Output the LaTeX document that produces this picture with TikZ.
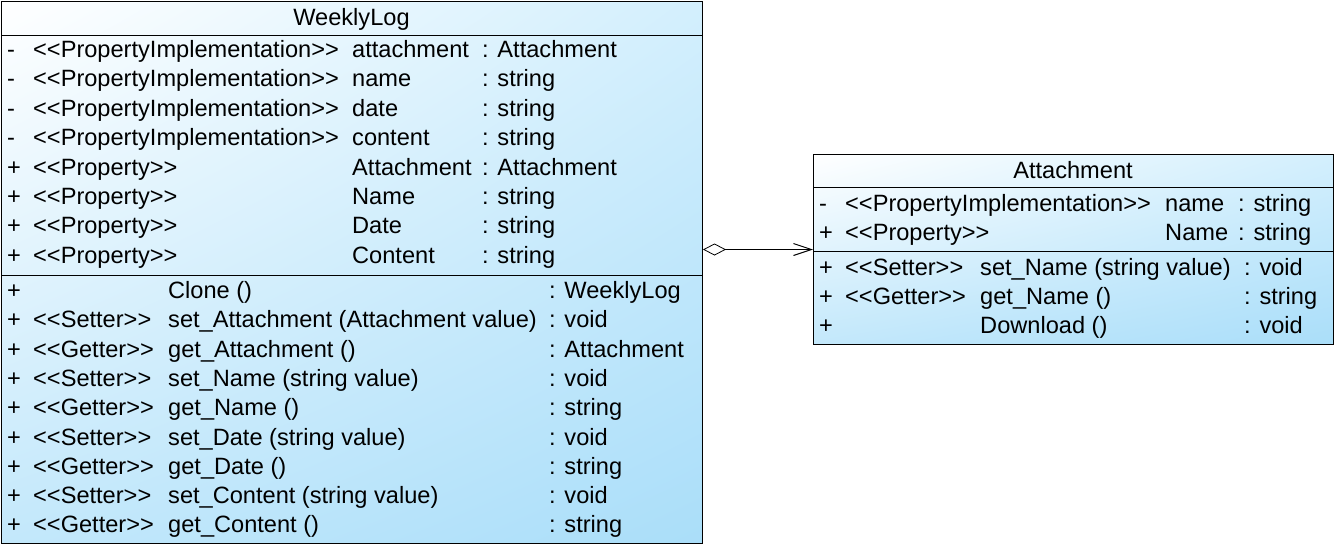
\documentclass[tikz,border=0pt]{standalone}
\usepackage{fontspec}
\newfontfamily\umlfont{Liberation Sans}
\usetikzlibrary{arrows.meta,shadings}
\definecolor{gTR}{HTML}{D3EFFD}
\definecolor{gBL}{HTML}{C3E8FB}
\definecolor{gBR}{HTML}{AADEF9}
\tikzset{
  classbox/.style={draw=black, line width=1pt, rectangle, inner sep=0pt, anchor=north west,
    shade, upper left=white, upper right=gTR, lower left=gBL, lower right=gBR},
  txt/.style={inner sep=0pt, anchor=base west, font=\umlfont\fontsize{23.6}{28}\selectfont, text=black},
  ttl/.style={txt, anchor=base},
  sep/.style={draw=black, line width=1pt},
  assoc/.style={draw=black, line width=1pt,
    {Diamond[open, length=23pt, width=12pt, line width=0.8pt]}-{Straight Barb[length=18pt, width=12pt, line width=1pt]}},
}
\begin{document}
\begin{tikzpicture}[x=1pt,y=-1pt]
\useasboundingbox (0,0) rectangle (1336,547);
% WeeklyLog class
\node[classbox, minimum width=701pt, minimum height=542pt] (wl) at (1,1) {};
\coordinate (wls1) at (0,35);
\coordinate (wls2) at (0,275);
\draw[sep] (wl.west |- wls1) -- (wl.east |- wls1);
\draw[sep] (wl.west |- wls2) -- (wl.east |- wls2);
\node[ttl] (wlt) at (351.5,25) {WeeklyLog};
\foreach \v/\s/\n/\t [count=\i] in {
  -/{<<PropertyImplementation>>}/{attachment}/{: Attachment},
  -/{<<PropertyImplementation>>}/{name}/{: string},
  -/{<<PropertyImplementation>>}/{date}/{: string},
  -/{<<PropertyImplementation>>}/{content}/{: string},
  +/{<<Property>>}/{Attachment}/{: Attachment},
  +/{<<Property>>}/{Name}/{: string},
  +/{<<Property>>}/{Date}/{: string},
  +/{<<Property>>}/{Content}/{: string}}{
  \node[txt] (wav\i) at (7,{57.5+29.4*(\i-1)}) {\v};
  \node[txt] (was\i) at (33,{57.5+29.4*(\i-1)}) {\s};
  \node[txt] (wan\i) at (352,{57.5+29.4*(\i-1)}) {\n};
  \node[txt] (wat\i) at (482,{57.5+29.4*(\i-1)}) {\t};
}
\foreach \v/\s/\n/\t [count=\i] in {
  +/{}/{Clone ()}/{: WeeklyLog},
  +/{<<Setter>>}/{set\_Attachment (Attachment value)}/{: void},
  +/{<<Getter>>}/{get\_Attachment ()}/{: Attachment},
  +/{<<Setter>>}/{set\_Name (string value)}/{: void},
  +/{<<Getter>>}/{get\_Name ()}/{: string},
  +/{<<Setter>>}/{set\_Date (string value)}/{: void},
  +/{<<Getter>>}/{get\_Date ()}/{: string},
  +/{<<Setter>>}/{set\_Content (string value)}/{: void},
  +/{<<Getter>>}/{get\_Content ()}/{: string}}{
  \node[txt] (wmv\i) at (7,{298.5+29.3*(\i-1)}) {\v};
  \node[txt] (wms\i) at (33,{298.5+29.3*(\i-1)}) {\s};
  \node[txt] (wmn\i) at (168,{298.5+29.3*(\i-1)}) {\n};
  \node[txt] (wmt\i) at (549,{298.5+29.3*(\i-1)}) {\t};
}
% Attachment class
\node[classbox, minimum width=520pt, minimum height=190pt] (at) at (813,154) {};
\coordinate (ats1) at (0,187.5);
\coordinate (ats2) at (0,251.5);
\draw[sep] (at.west |- ats1) -- (at.east |- ats1);
\draw[sep] (at.west |- ats2) -- (at.east |- ats2);
\node[ttl] (att) at (1073,178) {Attachment};
\foreach \v/\s/\n/\t [count=\i] in {
  -/{<<PropertyImplementation>>}/{name}/{: string},
  +/{<<Property>>}/{Name}/{: string}}{
  \node[txt] (aav\i) at (819,{211.5+29.2*(\i-1)}) {\v};
  \node[txt] (aas\i) at (845,{211.5+29.2*(\i-1)}) {\s};
  \node[txt] (aan\i) at (1165,{211.5+29.2*(\i-1)}) {\n};
  \node[txt] (aat\i) at (1238,{211.5+29.2*(\i-1)}) {\t};
}
\foreach \v/\s/\n/\t [count=\i] in {
  +/{<<Setter>>}/{set\_Name (string value)}/{: void},
  +/{<<Getter>>}/{get\_Name ()}/{: string},
  +/{}/{Download ()}/{: void}}{
  \node[txt] (amv\i) at (819,{275.5+29.2*(\i-1)}) {\v};
  \node[txt] (ams\i) at (845,{275.5+29.2*(\i-1)}) {\s};
  \node[txt] (amn\i) at (980,{275.5+29.2*(\i-1)}) {\n};
  \node[txt] (amt\i) at (1244,{275.5+29.2*(\i-1)}) {\t};
}
% association
\coordinate (cy) at (0,249.5);
\draw[assoc] (wl.east |- cy) -- (at.west |- cy);
\end{tikzpicture}
\end{document}
